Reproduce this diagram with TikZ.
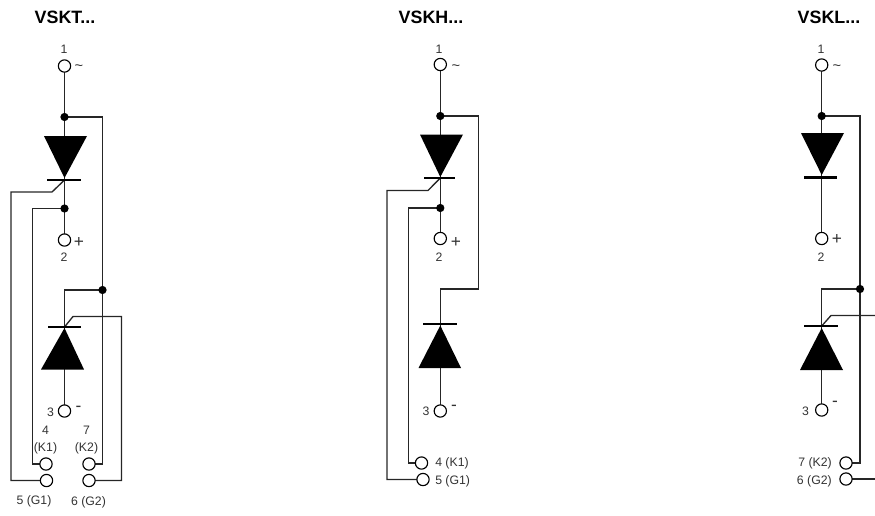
\documentclass[tikz,border=0pt]{standalone}
\usepackage{fontspec}
\setmainfont{Liberation Sans}
\definecolor{txt}{gray}{0.2}
\tikzset{
  x=0.75pt,y=-0.75pt,
  wire/.style={draw=black!85,line width=1pt,line join=miter},
  term/.style={circle,draw=black,fill=white,line width=0.85pt,minimum size=9.2pt,inner sep=0pt},
  jct/.style={circle,fill=black,minimum size=6.2pt,inner sep=0pt},
  lbl/.style={text=txt,font=\fontsize{9.2}{12.7}\selectfont,inner sep=0pt},
  sign/.style={text=txt,font=\fontsize{13}{14}\selectfont,inner sep=0pt},
  tildesign/.style={text=txt,font=\fontsize{11}{12}\selectfont,inner sep=0pt},
  title/.style={font=\bfseries\fontsize{13.4}{15}\selectfont,inner sep=0pt},
  bar/.style={draw=black,line width=1.7pt},
  tri/.style={fill=black},
}
\begin{document}
\begin{tikzpicture}
\useasboundingbox (0,0) rectangle (875,515);

% ---------- VSKT
\node[title] at (65,17) {VSKT...};
\draw[wire] (64.5,66) -- (64.5,240);
\draw[wire] (64.5,117) -- (102.5,117) -- (102.5,464) -- (89,464);
\draw[wire] (102.5,290) -- (64.5,290) -- (64.5,411);
\draw[wire] (64.5,180) -- (52,192) -- (11,192) -- (11,480.5) -- (46.5,480.5);
\draw[wire] (64.5,208.5) -- (32.5,208.5) -- (32.5,464) -- (46,464);
\draw[wire] (64.5,327) -- (73,316.5) -- (121.5,316.5) -- (121.5,480.5) -- (89,480.5);
\fill[tri] (44,136) -- (87,136) -- (64.5,178) -- cycle;
\draw[bar] (47,180) -- (81,180);
\draw[bar] (48,327) -- (81,327);
\fill[tri] (41,369.5) -- (84,369.5) -- (64.5,328) -- cycle;
\node[jct] (a1) at (64.5,117) {};
\node[jct] (a2) at (64.5,208.5) {};
\node[jct] (a3) at (102.5,290) {};
\node[term] (at1) at (64.5,66) {};
\node[term] (at2) at (64.5,240) {};
\node[term] (at3) at (64.5,411) {};
\node[term] (at4) at (46,464) {};
\node[term] (at5) at (46.5,480.5) {};
\node[term] (at7) at (89,464) {};
\node[term] (at6) at (89,480.5) {};
\node[lbl] at (64,49.5) {1};
\node[tildesign] at (79,68) {\char"007E};
\node[sign] at (79,242) {+};
\node[lbl] at (64,257) {2};
\node[lbl] at (50.5,412) {3};
\node[sign] at (78.5,409) {-};
\node[lbl,align=center] at (45.5,440.5) {4\\(K1)};
\node[lbl,align=center] at (86.5,440.5) {7\\(K2)};
\node[lbl] at (34,501) {5 (G1)};
\node[lbl] at (88.5,502) {6 (G2)};

% ---------- VSKH
\node[title] at (431,17) {VSKH...};
\draw[wire] (440.3,64.5) -- (440.3,238.5);
\draw[wire] (440.3,116) -- (478.5,116) -- (478.5,289) -- (440.3,289) -- (440.3,411);
\draw[wire] (440.3,178) -- (428,190.5) -- (387,190.5) -- (387,479.5) -- (423,479.5);
\draw[wire] (440.3,208) -- (408.5,208) -- (408.5,463) -- (421.5,463);
\fill[tri] (420,134.5) -- (463,134.5) -- (440.3,177) -- cycle;
\draw[bar] (424,178) -- (455,178);
\draw[bar] (423,324) -- (457,324);
\fill[tri] (418.5,368) -- (461,368) -- (440.3,325.5) -- cycle;
\node[jct] (b1) at (440.3,116) {};
\node[jct] (b2) at (440.3,208) {};
\node[term] (bt1) at (440.3,64.5) {};
\node[term] (bt2) at (440.3,238.5) {};
\node[term] (bt3) at (440.3,411) {};
\node[term] (bt4) at (421.5,463) {};
\node[term] (bt5) at (423,479.5) {};
\node[lbl] at (439,49.5) {1};
\node[tildesign] at (456,68) {\char"007E};
\node[sign] at (456,242) {+};
\node[lbl] at (439,257) {2};
\node[lbl] at (426,411) {3};
\node[sign] at (454,408) {-};
\node[lbl,anchor=west] at (435,463.5) {4 (K1)};
\node[lbl,anchor=west] at (435,481.5) {5 (G1)};

% ---------- VSKL
\node[title] at (829,17) {VSKL...};
\draw[wire] (821.7,65) -- (821.7,238.5);
\draw[wire] (821.7,116) -- (860,116) -- (860,463) -- (846,463);
\draw[wire] (860,289) -- (821.7,289) -- (821.7,410);
\draw[wire] (821.7,326) -- (831,315.5) -- (875,315.5);
\draw[wire] (846,479) -- (875,479);
\fill[tri] (801,133) -- (844,133) -- (821.7,175) -- cycle;
\draw[bar] (804,177.5) -- (837,177.5);
\draw[bar] (804,326) -- (838,326);
\fill[tri] (800,370) -- (843,370) -- (821.7,328) -- cycle;
\node[jct] (c1) at (821.7,116) {};
\node[jct] (c2) at (860,289) {};
\node[term] (ct1) at (821.7,65) {};
\node[term] (ct2) at (821.7,238.5) {};
\node[term] (ct3) at (821.7,410) {};
\node[term] (ct7) at (846,463) {};
\node[term] (ct6) at (846,479) {};
\node[lbl] at (821,49.5) {1};
\node[tildesign] at (837,68) {\char"007E};
\node[sign] at (837,239) {+};
\node[lbl] at (821,257) {2};
\node[lbl] at (805.5,411) {3};
\node[sign] at (835,404) {-};
\node[lbl,anchor=east] at (832,463.5) {7 (K2)};
\node[lbl,anchor=east] at (832,481.5) {6 (G2)};
\end{tikzpicture}
\end{document}
